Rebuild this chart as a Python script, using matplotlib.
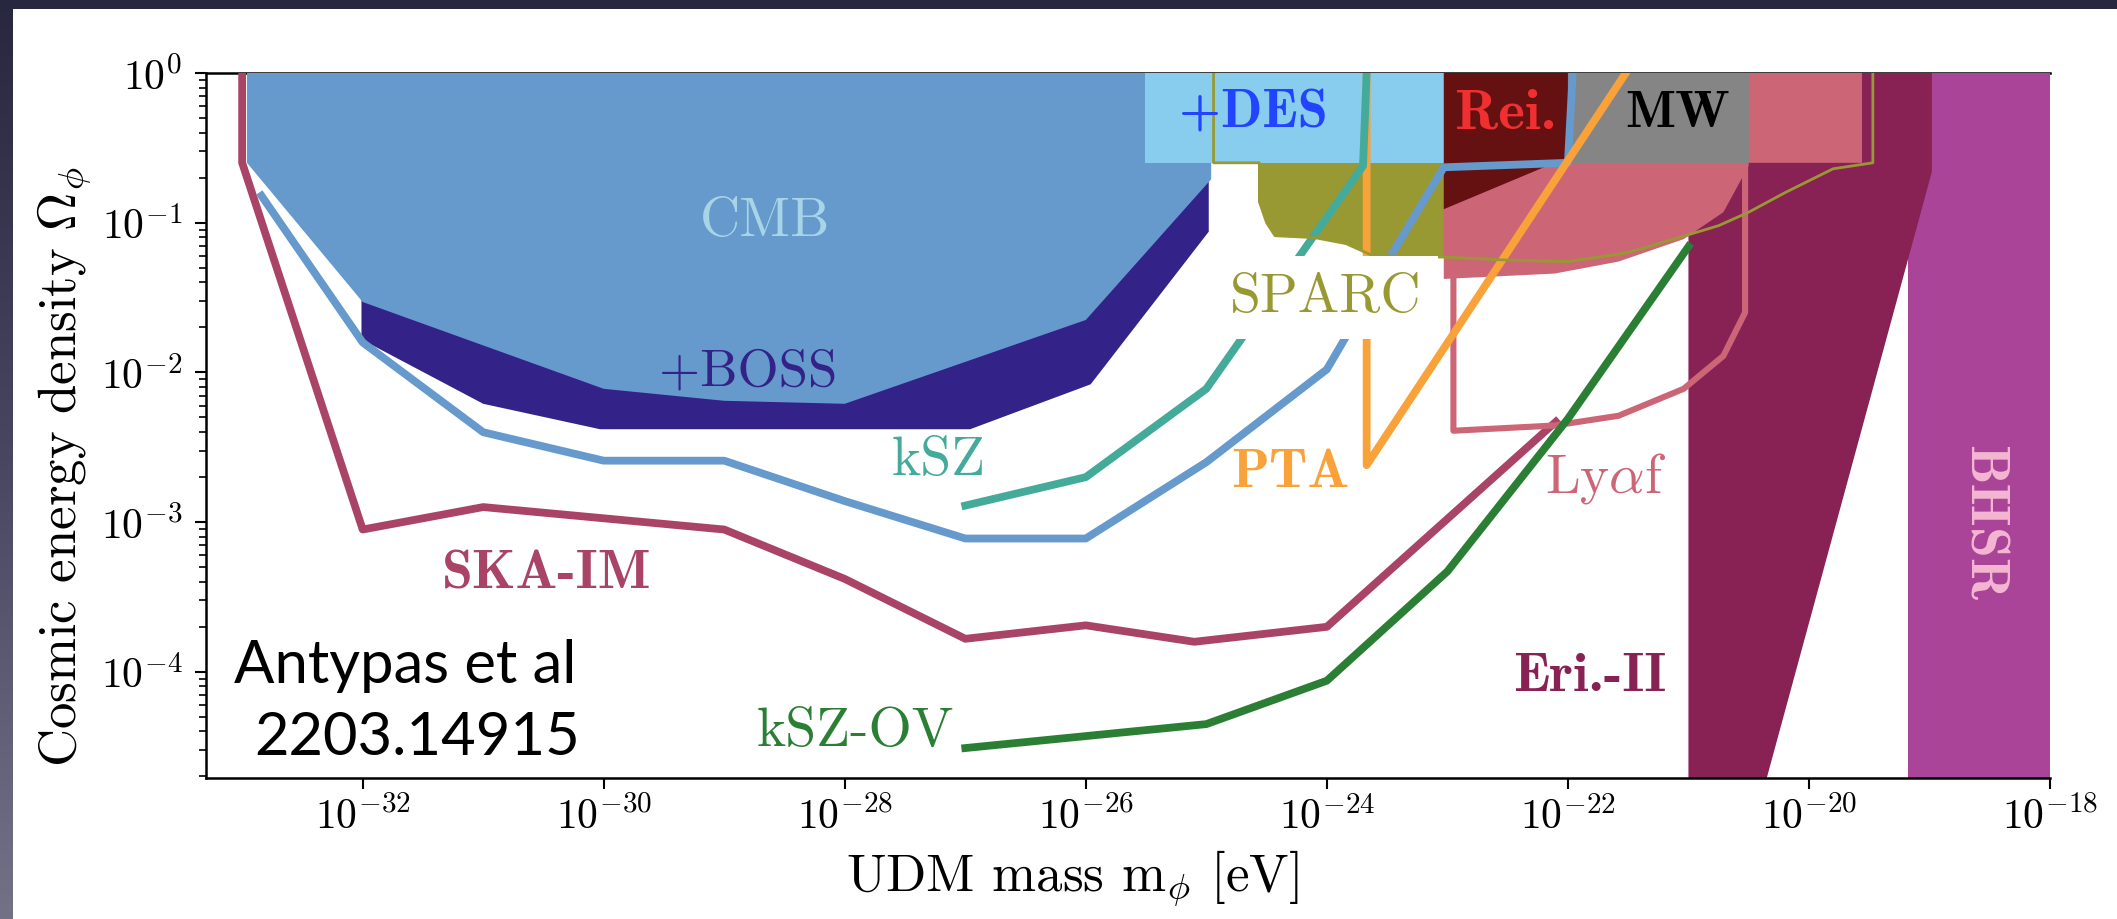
import numpy as np
import matplotlib
matplotlib.use("Agg")
import matplotlib.pyplot as plt
from matplotlib.colors import LinearSegmentedColormap
from matplotlib.ticker import FixedLocator, NullLocator, LogLocator

plt.rcParams['mathtext.fontset'] = 'cm'
plt.rcParams['font.family'] = ['cmr10', 'DejaVu Serif']
plt.rcParams['axes.formatter.use_mathtext'] = True
plt.rcParams['axes.unicode_minus'] = False

# ---------------- data (log10 m_phi [eV], log10 Omega_phi) ----------------
cmb_logm = [-32.96, -32.96, -32.0, -30.0, -29.0, -28.0, -26.0, -24.96, -24.96]
cmb_logO = [0.0, -0.60, -1.53, -2.11, -2.19, -2.21, -1.65, -0.71, 0.0]

boss_logm = [-32.01, -32.01, -31.0, -30.03, -26.96, -25.96, -24.98, -24.98]
boss_logO = [-0.5, -1.78, -2.21, -2.38, -2.38, -2.08, -1.06, -0.5]

des_logm = [-25.51, -23.03, -23.03, -25.51]
des_logO = [0.0, 0.0, -0.6, -0.6]

rei_logm = [-23.03, -22.0, -22.0, -22.11, -23.03]
rei_logO = [0.0, 0.0, -0.6, -0.6, -0.91]

mw_logm = [-22.0, -20.5, -20.5, -22.0]
mw_logO = [0.0, 0.0, -0.6, -0.6]

sparc_logm = [-24.94, -24.94, -24.56, -24.56, -24.50, -24.43, -24.1, -23.84, -23.62, -23.03,
              -22.5, -22.0, -21.5, -21.04, -20.75, -20.5, -20.2, -19.8, -19.47, -19.47]
sparc_logO = [0.0, -0.6, -0.6, -0.86, -1.00, -1.087, -1.10, -1.14, -1.22, -1.23,
              -1.25, -1.26, -1.20, -1.09, -1.02, -0.93, -0.80, -0.64, -0.6, 0.0]

lya_fill_logm = [-23.03, -19.56, -19.56, -20.5, -20.5, -20.71, -21.04, -21.58, -22.11, -23.03]
lya_fill_logO = [0.0, 0.0, -0.6, -0.6, -0.62, -0.93, -1.11, -1.26, -1.34, -1.376]

lya_line_logm = [-22.95, -22.95, -22.11, -21.58, -21.04, -20.71, -20.53, -20.53]
lya_line_logO = [-1.35, -2.39, -2.355, -2.29, -2.11, -1.89, -1.60, -0.64]

eri_logm = [-21.0, -18.98, -18.98, -20.35, -21.0]
eri_logO = [0.0, 0.0, -0.66, -4.71, -4.71]

bhsr_logm = [-19.18, -18.0, -18.0, -19.18]
bhsr_logO = [0.0, 0.0, -4.71, -4.71]

# ---------------- forecast / other lines ----------------
ska_logm = [-33.0, -33.0, -32.0, -31.0, -29.0, -28.0, -27.0, -26.0, -25.1, -24.0, -22.1]
ska_logO = [0.0, -0.6, -3.05, -2.90, -3.05, -3.38, -3.78, -3.69, -3.80, -3.70, -2.33]

s4_logm = [-32.84, -32.0, -31.0, -30.0, -29.0, -28.0, -27.0, -26.0, -25.0,
           -24.0, -23.84, -23.52, -23.03, -22.0, -21.96]
s4_logO = [-0.82, -1.80, -2.40, -2.59, -2.59, -2.86, -3.11, -3.11, -2.60,
           -1.98, -1.76, -1.29, -0.63, -0.6, 0.0]

ksz_logm = [-27.0, -26.0, -25.0, -23.70, -23.67]
ksz_logO = [-2.89, -2.70, -2.11, -0.62, 0.0]

pta_logm = [-23.67, -23.67, -21.52]
pta_logO = [0.0, -2.62, 0.0]

kszov_logm = [-27.0, -26.0, -25.0, -24.0, -23.0, -22.0, -21.0]
kszov_logO = [-4.51, -4.43, -4.35, -4.06, -3.33, -2.31, -1.16]

# ---------------- labels ----------------
label_text = ['CMB', '+BOSS', '+DES', 'Rei.', 'MW', 'SPARC', 'kSZ', 'PTA',
              r'Ly$\alpha$f', 'SKA-IM', 'kSZ-OV', 'Eri.-II', 'BHSR']
label_logm = [-28.66, -28.80, -24.61, -22.52, -21.09, -24.01, -27.22, -24.30,
              -21.69, -30.47, -27.91, -21.82, -18.56]
label_logO = [-0.99, -1.99, -0.27, -0.27, -0.27, -1.50, -2.59, -2.67,
              -2.70, -3.35, -4.40, -4.03, -3.00]

xtick_exp = [-32, -30, -28, -26, -24, -22, -20, -18]
ytick_exp = [0, -1, -2, -3, -4]

# ---------------- figure ----------------
W, H = 2117, 920
fig = plt.figure(figsize=(W / 100, H / 100), dpi=100, facecolor='white')

# slide-style dark border (left & top)
bgl = fig.add_axes([0, 0, 13 / W, 1])
bgl.axis('off')
cmap_bg = LinearSegmentedColormap.from_list('bg', ['#27273f', '#474762', '#727287'])
bgl.imshow(np.linspace(0, 1, 256)[:, None], aspect='auto', cmap=cmap_bg,
           extent=[0, 1, 0, 1], origin='upper')
bgt = fig.add_axes([0, 1 - 10 / H, 1, 10 / H])
bgt.axis('off')
bgt.add_patch(plt.Rectangle((0, 0), 1, 1, transform=bgt.transAxes, color='#27273f'))

L, R, T, B = 206, 2050, 74, 779
ax = fig.add_axes([L / W, 1 - B / H, (R - L) / W, (B - T) / H])
ax.set_xscale('log')
ax.set_yscale('log')
ax.set_xlim(10 ** -33.3, 1e-18)
ax.set_ylim(10 ** -4.71, 1.0)


def p(a):
    return 10.0 ** np.asarray(a)


def fillr(xs, ys, color, z):
    ax.fill(p(xs), p(ys), color=color, lw=0, zorder=z)


fillr(bhsr_logm, bhsr_logO, '#AA4499', 1.0)
fillr(sparc_logm, sparc_logO, '#999933', 1.1)
fillr(boss_logm, boss_logO, '#332288', 1.2)
fillr(cmb_logm, cmb_logO, '#6699CC', 1.3)
fillr(eri_logm, eri_logO, '#882255', 1.4)
fillr(lya_fill_logm, lya_fill_logO, '#CC6677', 1.5)
fillr(des_logm, des_logO, '#88CCEE', 1.6)
fillr(rei_logm, rei_logO, '#661111', 1.7)
fillr(mw_logm, mw_logO, '#858585', 1.7)

lw = 5.6
ax.plot(p(ska_logm), p(ska_logO), color='#AA4466', lw=lw, zorder=3)
ax.plot(p(s4_logm), p(s4_logO), color='#6699CC', lw=lw, zorder=3.1)
ax.plot(p(lya_line_logm), p(lya_line_logO), color='#CC6677', lw=4.4, zorder=3.2)
ax.plot(p(pta_logm), p(pta_logO), color='#F9A23A', lw=lw, zorder=3.3)
ax.plot(p(ksz_logm), p(ksz_logO), color='#44AA99', lw=lw, zorder=3.4)
ax.plot(p(kszov_logm), p(kszov_logO), color='#2B7F34', lw=lw, zorder=3.5)
ax.plot(p(sparc_logm), p(sparc_logO), color='#999933', lw=2.0, zorder=3.6)

label_color = ['#A8D4E8', '#332288', '#2244FF', '#F03030', 'black', '#999933',
               '#44AA99', '#F9A23A', '#CC6677', '#AA4466', '#2B7F34', '#882255', '#F4B6D2']
label_bold = [False, False, True, True, True, False,
              False, True, False, True, False, True, True]
label_size = [40, 38, 39, 41, 38, 40, 40, 40, 40, 40, 40, 40, 40]
label_rot = [0] * 12 + [270]
for t, xm, yo, c, r, bd, fsz in zip(label_text, label_logm, label_logO, label_color,
                                   label_rot, label_bold, label_size):
    kw = {}
    if t == 'SPARC':
        kw['bbox'] = dict(boxstyle='square,pad=0.3', fc='white', ec='none')
    fam = ['cmb10', 'DejaVu Serif'] if bd else ['cmr10', 'DejaVu Serif']
    ax.text(10 ** xm, 10 ** yo, t, color=c, fontsize=fsz, family=fam,
            ha='center', va='center', rotation=r, zorder=5, **kw)

# ticks
ax.xaxis.set_major_locator(FixedLocator([10.0 ** e for e in xtick_exp]))
ax.xaxis.set_minor_locator(NullLocator())
ax.set_xticklabels([r'$10^{%d}$' % e for e in xtick_exp])
ax.yaxis.set_major_locator(FixedLocator([10.0 ** e for e in ytick_exp]))
ax.yaxis.set_minor_locator(LogLocator(base=10, subs=np.arange(2, 10), numticks=20))
ax.set_yticklabels([r'$10^{%d}$' % e for e in ytick_exp])
ax.tick_params(axis='both', which='major', direction='out', length=8, width=1.5,
               labelsize=30, pad=5)
ax.tick_params(axis='y', which='major', pad=9)
ax.tick_params(axis='y', which='minor', direction='out', length=5, width=1.2)

for s in ['top', 'right']:
    ax.spines[s].set_zorder(0.5)
ax.spines['right'].set_visible(False)
for s in ['left', 'bottom', 'top']:
    ax.spines[s].set_linewidth(1.8)

ax.set_xlabel(r'UDM mass m$_\phi$ [eV]', fontsize=38)
ax.xaxis.set_label_coords(0.470, -0.159)
ax.xaxis.label.set_va('baseline')
ax.set_ylabel(r'Cosmic energy density $\Omega_\phi$', fontsize=38)
ax.yaxis.set_label_coords(-0.0765, 0.443)
ax.yaxis.label.set_va('center')

# citation text
fig.text(234 / W, 1 - 683 / H, 'Antypas et al', fontsize=43, family='Lato',
         ha='left', va='baseline', color='black')
fig.text(254 / W, 1 - 755 / H, '2203.14915', fontsize=43, family='Lato',
         ha='left', va='baseline', color='black')

fig.savefig('out.png', dpi=100, facecolor='white')
